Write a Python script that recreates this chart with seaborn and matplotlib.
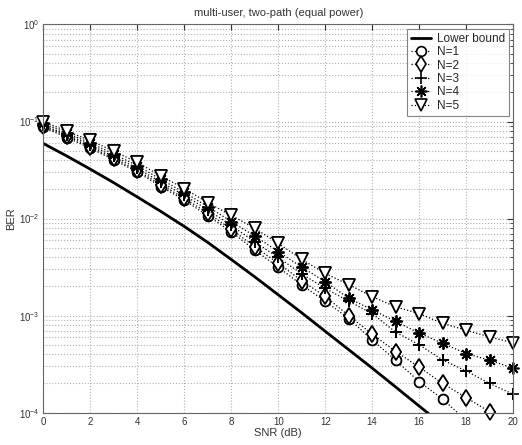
import numpy as np
import pandas as pd
import matplotlib
matplotlib.use("Agg")
import matplotlib.pyplot as plt
import seaborn as sns

snr = list(range(0, 21))

lower_bound = [0.0594, 0.0441, 0.0323, 0.0234, 0.0167, 0.01186, 0.0083, 0.00568, 0.00379,
               0.00251, 0.00164, 0.00107, 0.00069, 0.000446, 0.000288, 0.000184, 0.000117,
               7.5e-5, 4.8e-5, 3.0e-5, 1.9e-5]

ber_n1 = [0.0871, 0.0684, 0.0531, 0.0403, 0.0302, 0.0214, 0.0155, 0.0107, 0.00733, 0.00473,
          0.00316, 0.00207, 0.00141, 0.000933, 0.000562, 0.000347, 0.000209, 0.000138,
          8.3e-5, 5.0e-5, 3.2e-5]
ber_n2 = [0.0891, 0.0708, 0.0550, 0.0417, 0.0313, 0.0224, 0.0162, 0.0114, 0.00776, 0.00513,
          0.00347, 0.00229, 0.00158, 0.00100, 0.000646, 0.000427, 0.000295, 0.000200,
          0.000143, 0.000102, 7.1e-5]
ber_n3 = [0.0912, 0.0733, 0.0575, 0.0437, 0.0331, 0.0237, 0.0174, 0.0123, 0.00851, 0.00575,
          0.00398, 0.00269, 0.00191, 0.00141, 0.00105, 0.000676, 0.000501, 0.000349,
          0.000269, 0.000200, 0.000155]
ber_n4 = [0.0955, 0.0759, 0.0603, 0.0462, 0.0351, 0.0254, 0.0186, 0.0133, 0.00933, 0.00661,
          0.00457, 0.00316, 0.00224, 0.00151, 0.00115, 0.000871, 0.000661, 0.000519,
          0.000407, 0.000347, 0.000288]
ber_n5 = [0.1, 0.0794, 0.0638, 0.0495, 0.0380, 0.0275, 0.0204, 0.0146, 0.0108, 0.00794,
          0.00556, 0.00380, 0.00272, 0.00209, 0.00157, 0.00123, 0.00105, 0.000832,
          0.000708, 0.000603, 0.000525]

series_labels = ["N=1", "N=2", "N=3", "N=4", "N=5"]
series_values = [ber_n1, ber_n2, ber_n3, ber_n4, ber_n5]

# matlab-ish marker shapes: o, diamond, +, *, down-triangle
marker_style = {
    "N=1": dict(marker="o", markersize=7),
    "N=2": dict(marker="d", markersize=8.5),
    "N=3": dict(marker="+", markersize=9),
    "N=4": dict(marker=(8, 2, 0), markersize=8.5),
    "N=5": dict(marker="v", markersize=8),
}

sns.set_style("white")
plt.rcParams['font.family'] = ['Liberation Sans', 'DejaVu Sans']
plt.rcParams['mathtext.fontset'] = 'custom'
plt.rcParams['mathtext.rm'] = 'Liberation Sans'

fig = plt.figure(figsize=(5.22, 4.45), dpi=100)
ax = fig.add_axes([0.083, 0.0726, 0.9, 0.8724])

sns.lineplot(x=snr, y=lower_bound, ax=ax, color="k", lw=2.0, label="Lower bound")

ymin = 1e-4
for lab, vals in zip(series_labels, series_values):
    sns.lineplot(x=snr, y=vals, ax=ax, color="k", lw=0.9, linestyle=":",
                 markerfacecolor="white", markeredgecolor="k", markeredgewidth=1.2,
                 label=lab, **marker_style[lab])
    # redraw markers unclipped so the ones on the frame edge show whole (like matlab)
    keep = [i for i, v in enumerate(vals) if v >= ymin]
    sns.lineplot(x=[snr[i] for i in keep], y=[vals[i] for i in keep], ax=ax,
                 color="k", linestyle="none", markerfacecolor="white",
                 markeredgecolor="k", markeredgewidth=1.2, clip_on=False,
                 **marker_style[lab])

ax.set_yscale("log")
ax.set_xlim(0, 20)
ax.set_ylim(ymin, 1)
ax.set_xticks(range(0, 21, 2))

ax.grid(True, which="major", color="#b0b0b0", linestyle=":", linewidth=0.8)
ax.grid(True, which="minor", axis="y", color="#b0b0b0", linestyle=":", linewidth=0.8)
ax.tick_params(which="both", direction="in", top=True, right=True, labelsize=7,
               colors="#333333", pad=3)
ax.tick_params(which="major", length=4)
ax.tick_params(which="minor", length=2)
for sp in ax.spines.values():
    sp.set_color("#666666")
    sp.set_linewidth(0.8)

ax.set_title("multi-user, two-path (equal power)", fontsize=8, color="#333333", pad=6)
ax.set_xlabel("SNR (dB)", fontsize=8, color="#333333", labelpad=1)
ax.set_ylabel("BER", fontsize=8, color="#333333", labelpad=2)

leg = ax.legend(loc="upper right", fontsize=8.5, frameon=True, fancybox=False,
                borderpad=0.35, labelspacing=0.12, handlelength=1.7, handletextpad=0.5,
                borderaxespad=0.35)
leg.get_frame().set_edgecolor("#666666")
leg.get_frame().set_linewidth(0.8)

fig.savefig("out.png", dpi=100)
